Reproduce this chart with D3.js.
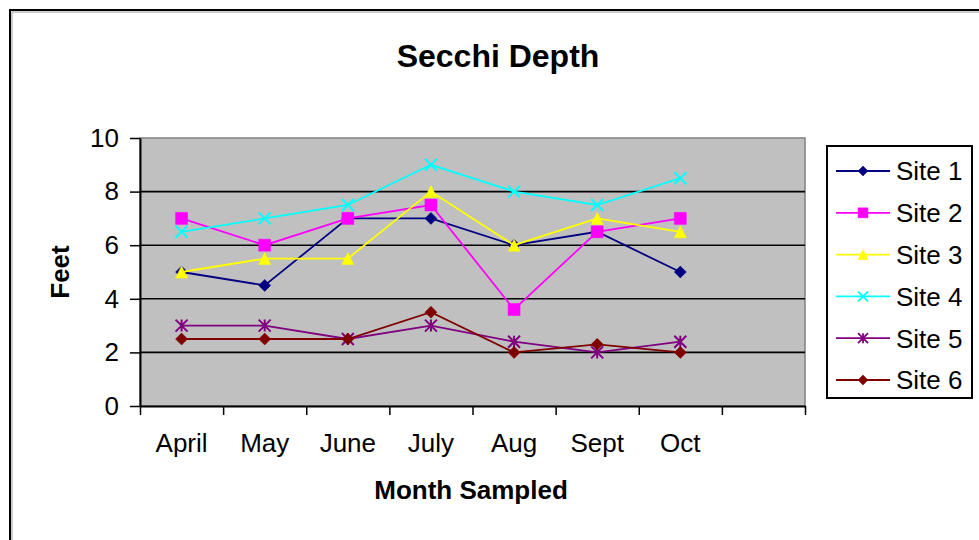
<!DOCTYPE html>
<html>
<head>
<meta charset="utf-8">
<script src="https://cdn.jsdelivr.net/npm/d3@7"></script>
<style>
  body { margin: 0; background: #fff; }
  svg { display: block; font-family: "Liberation Sans", Arial, sans-serif; }
</style>
</head>
<body>
<div id="chart"></div>
<script>
// Данные
const months = ["April", "May", "June", "July", "Aug", "Sept", "Oct"];
const siteNames = ["Site 1", "Site 2", "Site 3", "Site 4", "Site 5", "Site 6"];
const site1 = [5, 4.5, 7, 7, 6, 6.5, 5];
const site2 = [7, 6, 7, 7.5, 3.6, 6.5, 7];
const site3 = [5, 5.5, 5.5, 8, 6, 7, 6.5];
const site4 = [6.5, 7, 7.5, 9, 8, 7.5, 8.5];
const site5 = [3, 3, 2.5, 3, 2.4, 2, 2.4];
const site6 = [2.5, 2.5, 2.5, 3.5, 2, 2.3, 2];
const yTicks = [0, 2, 4, 6, 8, 10];

const seriesValues = [site1, site2, site3, site4, site5, site6];
const colors = ["#000080", "#ff00ff", "#ffff00", "#00ffff", "#800080", "#800000"];
const shapes = ["diamond", "square", "triangle", "cross", "star", "diamond"];

const W = 979, H = 540;
const plot = { left: 140, right: 805, top: 138, bottom: 406 };

const svg = d3.select("#chart").append("svg")
  .attr("width", W).attr("height", H);

// Рамка
svg.append("rect")
  .attr("x", 10).attr("y", 10)
  .attr("width", W).attr("height", H)
  .attr("fill", "none").attr("stroke", "#000").attr("stroke-width", 2);
svg.append("rect")
  .attr("x", 12).attr("y", 12)
  .attr("width", W).attr("height", H)
  .attr("fill", "none").attr("stroke", "#999").attr("stroke-width", 1);

// Шкалы: 8 ячеек, последняя пустая
const bands = [...months, ""];
const x = d3.scaleBand().domain(bands).range([plot.left, plot.right]);
const xEdges = d3.scaleLinear().domain([0, bands.length]).range([plot.left, plot.right]);
const y = d3.scaleLinear().domain([0, 10]).range([plot.bottom, plot.top]);

// Фон области построения
svg.append("rect")
  .attr("x", plot.left).attr("y", plot.top)
  .attr("width", plot.right - plot.left).attr("height", plot.bottom - plot.top)
  .attr("fill", "#c0c0c0").attr("stroke", "#808080").attr("stroke-width", 1.5);

// Линии сетки
svg.append("g")
  .selectAll("line")
  .data(yTicks.filter((d) => d > 0 && d < 10))
  .enter().append("line")
  .attr("x1", plot.left).attr("x2", plot.right)
  .attr("y1", (d) => y(d)).attr("y2", (d) => y(d))
  .attr("stroke", "#000").attr("stroke-width", 1.6);

// Ось Y
const yAxis = svg.append("g")
  .attr("transform", `translate(${plot.left},0)`)
  .call(d3.axisLeft(y).tickValues(yTicks).tickSize(10).tickPadding(11).tickSizeOuter(0));
yAxis.select(".domain").attr("stroke", "#000").attr("stroke-width", 2);
yAxis.selectAll(".tick line").attr("stroke-width", 1.5);
yAxis.selectAll("text").attr("font-size", 26).attr("fill", "#000");

// Ось X: деления на границах ячеек
const xTickAxis = svg.append("g")
  .attr("transform", `translate(0,${plot.bottom})`)
  .call(d3.axisBottom(xEdges).ticks(bands.length).tickSize(9).tickFormat("").tickSizeOuter(0));
xTickAxis.select(".domain").attr("stroke", "#000").attr("stroke-width", 2);
xTickAxis.selectAll(".tick line").attr("stroke-width", 1.5);

const xLabelAxis = svg.append("g")
  .attr("transform", `translate(0,${plot.bottom})`)
  .call(d3.axisBottom(x).tickSize(0).tickPadding(28));
xLabelAxis.select(".domain").remove();
xLabelAxis.selectAll("text").attr("font-size", 26).attr("fill", "#000");

// Заголовки
svg.append("text")
  .attr("x", 498).attr("y", 67)
  .attr("text-anchor", "middle")
  .attr("font-size", 32).attr("font-weight", "bold")
  .text("Secchi Depth");

svg.append("text")
  .attr("x", 471).attr("y", 499)
  .attr("text-anchor", "middle")
  .attr("font-size", 26).attr("font-weight", "bold")
  .text("Month Sampled");

svg.append("text")
  .attr("transform", "translate(69,272) rotate(-90)")
  .attr("text-anchor", "middle")
  .attr("font-size", 26).attr("font-weight", "bold")
  .text("Feet");

// Маркеры
const markerPath = (shape, s) => {
  if (shape === "diamond") return `M0,${-s}L${s},0L0,${s}L${-s},0Z`;
  if (shape === "square") return `M${-s},${-s}H${s}V${s}H${-s}Z`;
  if (shape === "triangle") return `M0,${-s}L${s},${s}L${-s},${s}Z`;
  if (shape === "cross") return `M${-s},${-s}L${s},${s}M${-s},${s}L${s},${-s}`;
  return `M${-s},${-s}L${s},${s}M${-s},${s}L${s},${-s}M0,${-s}L0,${s}`;
};
const isFilled = (shape) => shape === "diamond" || shape === "square" || shape === "triangle";

const line = d3.line()
  .x((d, i) => x(months[i]) + x.bandwidth() / 2)
  .y((d) => y(d));

seriesValues.forEach((values, k) => {
  const g = svg.append("g");
  g.append("path")
    .datum(values)
    .attr("fill", "none")
    .attr("stroke", colors[k])
    .attr("stroke-width", 1.8)
    .attr("d", line);
  g.selectAll("path.mark")
    .data(values)
    .enter().append("path")
    .attr("class", "mark")
    .attr("transform", (d, i) => `translate(${x(months[i]) + x.bandwidth() / 2},${y(d)})`)
    .attr("d", markerPath(shapes[k], 6))
    .attr("fill", isFilled(shapes[k]) ? colors[k] : "none")
    .attr("stroke", colors[k])
    .attr("stroke-width", isFilled(shapes[k]) ? 0.5 : 2);
});

// Легенда
const legend = svg.append("g");
legend.append("rect")
  .attr("x", 827).attr("y", 146)
  .attr("width", 145).attr("height", 252)
  .attr("fill", "#fff").attr("stroke", "#000").attr("stroke-width", 2);

const legendY = d3.scalePoint().domain(siteNames).range([171, 380]);
siteNames.forEach((name, k) => {
  const ly = legendY(name);
  legend.append("line")
    .attr("x1", 836).attr("x2", 890)
    .attr("y1", ly).attr("y2", ly)
    .attr("stroke", colors[k]).attr("stroke-width", 1.8);
  legend.append("path")
    .attr("transform", `translate(863,${ly})`)
    .attr("d", markerPath(shapes[k], 5))
    .attr("fill", isFilled(shapes[k]) ? colors[k] : "none")
    .attr("stroke", colors[k])
    .attr("stroke-width", isFilled(shapes[k]) ? 0.5 : 1.8);
  legend.append("text")
    .attr("x", 896).attr("y", ly)
    .attr("dy", "0.36em")
    .attr("font-size", 26)
    .text(name);
});
</script>
</body>
</html>
